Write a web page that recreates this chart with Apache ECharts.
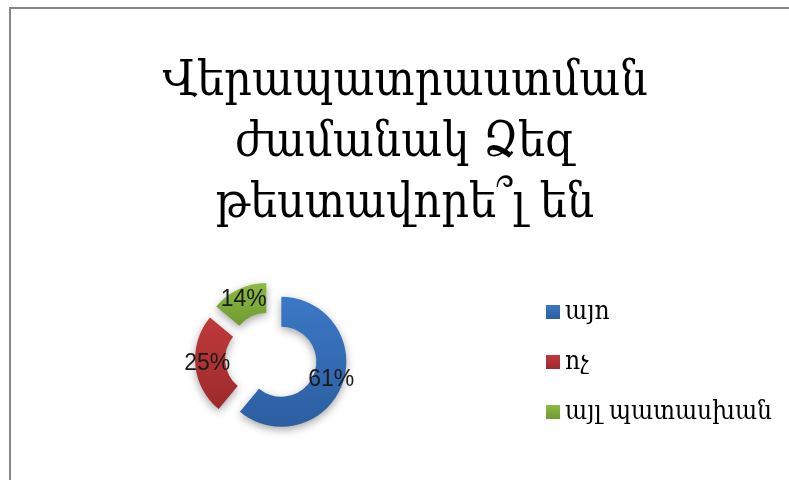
<!DOCTYPE html>
<html><head><meta charset="utf-8">
<script src="https://cdn.jsdelivr.net/npm/echarts@6/dist/echarts.min.js"></script>
<style>html,body{margin:0;padding:0;background:#fff}#c{width:789px;height:480px}</style>
</head><body><div id="c"></div>
<script>
const titleLines = ['Վերապատրաստման', 'ժամանակ Ձեզ', 'թեստավորե՞լ են'];
const categories = ['այո', 'ոչ', 'այլ պատասխան'];
const values = [61, 25, 14];
const colors = ['#3b78c6', '#c0393b', '#8dba44'];
const darkColors = ['#2c5ea0', '#9c2a2c', '#6f9a30'];

const chart = echarts.init(document.getElementById('c'));
const labelOffsets = [[-3, 1], [-2, 12], [-2, -2]];
const serif = '"DejaVu Serif Condensed", "DejaVu Serif", serif';
chart.setOption({
  backgroundColor: '#fff',
  animation: false,
  graphic: [{
    type: 'rect', shape: {x: 10, y: 8, width: 800, height: 500},
    style: {fill: 'none', stroke: '#868686', lineWidth: 2}, silent: true, z: -1
  }],
  title: {
    text: titleLines.join('\n'),
    left: 400, top: 47, textAlign: 'center',
    textStyle: {fontFamily: serif, fontSize: 48, fontWeight: 'normal', color: '#000', lineHeight: 61}
  },
  legend: {
    orient: 'vertical', left: 541, top: 294, itemGap: 24,
    itemWidth: 14, itemHeight: 14, icon: 'rect',
    textStyle: {fontFamily: serif, fontSize: 26, color: '#000', padding: [0, 0, 0, 0]},
    data: categories
  },
  series: [{
    type: 'pie', center: [271, 358], radius: [35, 65],
    selectedMode: 'multiple', selectedOffset: 11, startAngle: 90, clockwise: true,
    label: {position: 'inside', formatter: '{d}%', fontFamily: 'Liberation Sans', fontSize: 23, color: '#1a1a1a'},
    labelLine: {show: false},
    itemStyle: {shadowBlur: 8, shadowColor: 'rgba(0,0,0,0.35)', shadowOffsetY: 3},
    emphasis: {disabled: true},
    data: categories.map((n, i) => ({
      name: n, value: values[i], selected: true,
      label: {offset: labelOffsets[i]},
      itemStyle: {color: new echarts.graphic.LinearGradient(0, 0, 0, 1, [{offset: 0, color: colors[i]}, {offset: 1, color: darkColors[i]}])}
    }))
  }]
});
</script></body></html>
